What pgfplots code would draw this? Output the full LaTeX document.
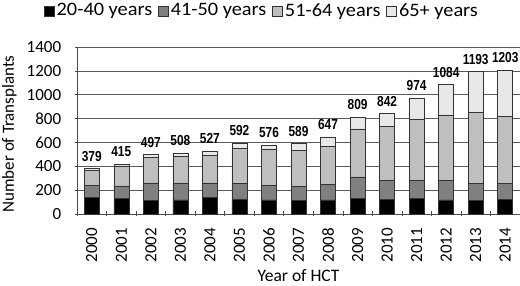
\documentclass[border=0pt]{standalone}
\usepackage{fontspec}
\setmainfont{Carlito}
\newfontfamily\legfont[FakeStretch=1.07]{Carlito}
\newfontfamily\labfont[FakeStretch=0.82]{Liberation Sans}
\usepackage{pgfplots}
\pgfplotsset{compat=1.18}
\usepackage{pgfplotstable}
\pgfplotstableread{
x a b c d total
0 139 103 125 12 379
1 128 108 167 12 415
2 114 147 211 25 497
3 119 142 222 25 508
4 142 119 231 35 527
5 122 136 289 45 592
6 119 120 303 34 576
7 114 119 300 56 589
8 119 131 317 80 647
9 131 180 403 95 809
10 122 159 452 109 842
11 128 153 511 182 974
12 119 162 550 253 1084
13 117 139 594 343 1193
14 125 131 563 384 1203
}\datatable
\definecolor{cA}{HTML}{000000}
\definecolor{cB}{HTML}{808080}
\definecolor{cC}{HTML}{BFBFBF}
\definecolor{cD}{HTML}{E8E8E8}
\begin{document}
\fontsize{17}{20}\selectfont
\begin{tikzpicture}
\path[use as bounding box] (0,0) rectangle (520pt,286pt);
\begin{axis}[
  at={(77pt,72pt)}, anchor=south west,
  scale only axis, width=443pt, height=167pt,
  ybar stacked, bar width=15pt,
  xmin=-0.5, xmax=14.5, ymin=0, ymax=1400,
  ytick={0,200,...,1400},
  xtick={0,...,14},
  xticklabels={2000,2001,2002,2003,2004,2005,2006,2007,2008,2009,2010,2011,2012,2013,2014},
  minor xtick={-0.5,0.5,...,14.5},
  major x tick style={draw=none},
  tick align=outside,
  minor tick length=5pt,
  major tick length=4pt,
  tick style={black!70, line width=0.6pt},
  axis lines=left,
  axis line style={-, black!70, line width=0.8pt},
  ymajorgrids,
  grid style={black!65, line width=0.7pt},
  /pgf/number format/assume math mode=true,
  /pgf/number format/1000 sep={},
  tick label style={font=\fontsize{17}{20}\selectfont},
  x tick label style={rotate=90, anchor=east},
  xticklabel shift=6pt,
  y tick label style={xshift=-8pt},
  ylabel={Number of Transplants},
  xlabel={Year of HCT},
  ylabel style={at={(axis description cs:-0.153,0.479)}, anchor=center, font=\fontsize{17}{20}\selectfont},
  xlabel style={at={(axis description cs:0.5,-0.407)}, anchor=base, inner sep=0pt, font=\fontsize{17.5}{20}\selectfont},
  legend style={at={(axis description cs:0.4176,1.216)}, anchor=center, draw=none, fill=none,
    legend columns=4, font=\legfont\fontsize{19}{20}\selectfont,
    /tikz/every even column/.append style={column sep=4pt},
    nodes={inner sep=2pt}},
  legend image code/.code={\draw[#1, draw=black!80, line width=0.6pt] (0pt,-5pt) rectangle (10pt,5pt);},
  clip=false,
]
\addplot[fill=cA, draw=black!80, line width=0.6pt] table[x=x, y=a] {\datatable};
\addplot[fill=cB, draw=black!80, line width=0.6pt] table[x=x, y=b] {\datatable};
\addplot[fill=cC, draw=black!80, line width=0.6pt] table[x=x, y=c] {\datatable};
\addplot[fill=cD, draw=black!80, line width=0.6pt] table[x=x, y=d] {\datatable};
\addplot[draw=none, fill=none, forget plot,
  nodes near coords, point meta=explicit,
  every node near coord/.append style={font=\labfont\bfseries\fontsize{14.5}{15}\selectfont, anchor=south, text=black, yshift=1.5pt}]
  table[x=x, y expr=0.01, meta=total] {\datatable};
\legend{20-40 years, 41-50 years, 51-64 years, 65+ years}
\end{axis}
\end{tikzpicture}
\end{document}
